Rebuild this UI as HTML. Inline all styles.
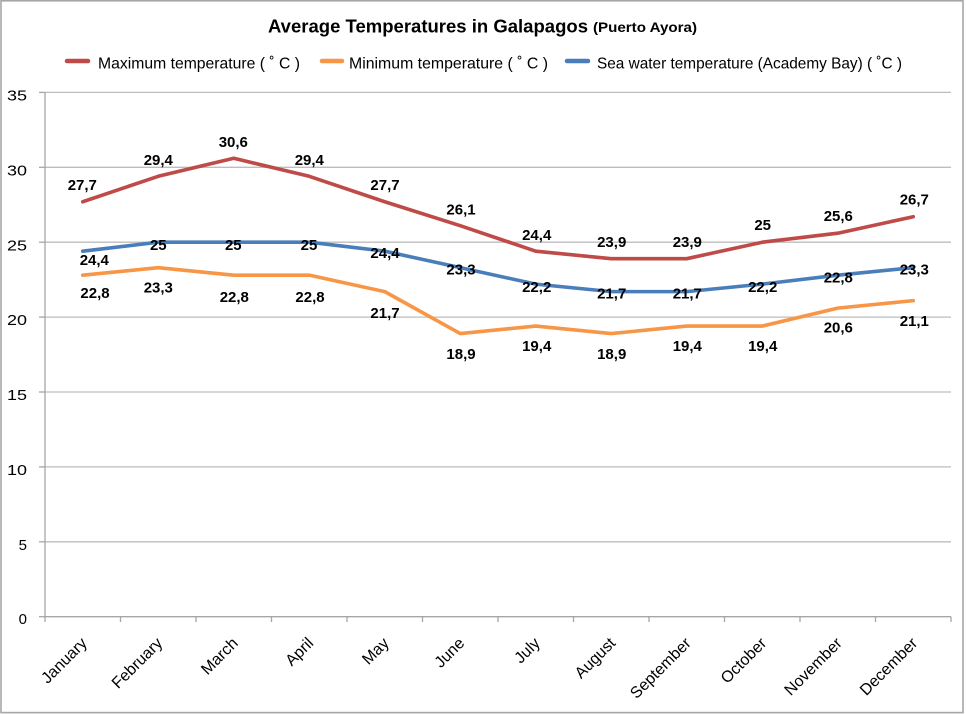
<!DOCTYPE html>
<html><head><meta charset="utf-8"><style>
html,body{margin:0;padding:0;background:#fff;}
svg{display:block;}
text{font-family:"Liberation Sans",Arial,sans-serif;fill:#000;}
.lbl{font-size:15px;font-weight:bold;text-anchor:middle;}
.yl{font-size:15px;text-anchor:end;}
.xl{font-size:16px;text-anchor:end;}
</style></head><body>
<svg width="966" height="714" viewBox="0 0 966 714" xmlns="http://www.w3.org/2000/svg">
<rect x="0" y="0" width="966" height="714" fill="#fff"/>
<rect x="1" y="0.8" width="962" height="711.8" fill="none" stroke="#a6a6a6" stroke-width="1.6"/>
<!-- title -->
<text x="268" y="32.5" font-size="18" font-weight="bold" textLength="320" lengthAdjust="spacingAndGlyphs">Average Temperatures in Galapagos</text>
<text x="593" y="32" font-size="14" font-weight="bold" textLength="104" lengthAdjust="spacingAndGlyphs">(Puerto Ayora)</text>
<!-- legend -->
<line x1="67" y1="61" x2="88" y2="61" stroke="#BE4B48" stroke-width="4.5" stroke-linecap="round"/>
<text x="98" y="68.3" font-size="16" textLength="202" lengthAdjust="spacingAndGlyphs">Maximum temperature ( ˚ C )</text>
<line x1="322" y1="61" x2="342" y2="61" stroke="#F79646" stroke-width="4.5" stroke-linecap="round"/>
<text x="349" y="68.3" font-size="16" textLength="199" lengthAdjust="spacingAndGlyphs">Minimum temperature ( ˚ C )</text>
<line x1="567" y1="61" x2="588" y2="61" stroke="#4A7EBB" stroke-width="4.5" stroke-linecap="round"/>
<text x="597" y="68.3" font-size="16" textLength="305" lengthAdjust="spacingAndGlyphs">Sea water temperature (Academy Bay) ( ˚C )</text>
<!-- gridlines -->
<g stroke="#bdbdbd" stroke-width="1.3">
<line x1="45" y1="92.4" x2="951" y2="92.4"/>
<line x1="45" y1="167.3" x2="951" y2="167.3"/>
<line x1="45" y1="242.2" x2="951" y2="242.2"/>
<line x1="45" y1="317.1" x2="951" y2="317.1"/>
<line x1="45" y1="392.0" x2="951" y2="392.0"/>
<line x1="45" y1="466.9" x2="951" y2="466.9"/>
<line x1="45" y1="541.8" x2="951" y2="541.8"/>
</g>
<!-- axes -->
<g stroke="#a6a6a6" stroke-width="1.3">
<line x1="45" y1="92.4" x2="45" y2="616.7"/>
<line x1="45" y1="616.7" x2="951" y2="616.7"/>
<line x1="39" y1="92.4" x2="45" y2="92.4"/>
<line x1="39" y1="167.3" x2="45" y2="167.3"/>
<line x1="39" y1="242.2" x2="45" y2="242.2"/>
<line x1="39" y1="317.1" x2="45" y2="317.1"/>
<line x1="39" y1="392.0" x2="45" y2="392.0"/>
<line x1="39" y1="466.9" x2="45" y2="466.9"/>
<line x1="39" y1="541.8" x2="45" y2="541.8"/>
<line x1="39" y1="616.7" x2="45" y2="616.7"/>
<line x1="45" y1="616.7" x2="45" y2="622"/>
<line x1="120.5" y1="616.7" x2="120.5" y2="622"/>
<line x1="196" y1="616.7" x2="196" y2="622"/>
<line x1="271.5" y1="616.7" x2="271.5" y2="622"/>
<line x1="347" y1="616.7" x2="347" y2="622"/>
<line x1="422.5" y1="616.7" x2="422.5" y2="622"/>
<line x1="498" y1="616.7" x2="498" y2="622"/>
<line x1="573.5" y1="616.7" x2="573.5" y2="622"/>
<line x1="649" y1="616.7" x2="649" y2="622"/>
<line x1="724.5" y1="616.7" x2="724.5" y2="622"/>
<line x1="800" y1="616.7" x2="800" y2="622"/>
<line x1="875.5" y1="616.7" x2="875.5" y2="622"/>
<line x1="951" y1="616.7" x2="951" y2="622"/>
</g>
<!-- y labels -->
<text class="yl" x="27" y="100.5" textLength="20" lengthAdjust="spacingAndGlyphs">35</text>
<text class="yl" x="27" y="175.4" textLength="20" lengthAdjust="spacingAndGlyphs">30</text>
<text class="yl" x="27" y="250.3" textLength="20" lengthAdjust="spacingAndGlyphs">25</text>
<text class="yl" x="27" y="325.2" textLength="20" lengthAdjust="spacingAndGlyphs">20</text>
<text class="yl" x="27" y="400.1" textLength="20" lengthAdjust="spacingAndGlyphs">15</text>
<text class="yl" x="27" y="475.0" textLength="20" lengthAdjust="spacingAndGlyphs">10</text>
<text class="yl" x="27" y="549.9">5</text>
<text class="yl" x="27" y="624.0">0</text>
<!-- x labels -->
<g>
<text class="xl" transform="translate(79.75,636) rotate(-45)" x="0" y="11.5">January</text>
<text class="xl" transform="translate(155.25,636) rotate(-45)" x="0" y="11.5">February</text>
<text class="xl" transform="translate(230.75,636) rotate(-45)" x="0" y="11.5">March</text>
<text class="xl" transform="translate(306.25,636) rotate(-45)" x="0" y="11.5">April</text>
<text class="xl" transform="translate(381.75,636) rotate(-45)" x="0" y="11.5">May</text>
<text class="xl" transform="translate(457.25,636) rotate(-45)" x="0" y="11.5">June</text>
<text class="xl" transform="translate(532.75,636) rotate(-45)" x="0" y="11.5">July</text>
<text class="xl" transform="translate(608.25,636) rotate(-45)" x="0" y="11.5">August</text>
<text class="xl" transform="translate(683.75,636) rotate(-45)" x="0" y="11.5">September</text>
<text class="xl" transform="translate(759.25,636) rotate(-45)" x="0" y="11.5">October</text>
<text class="xl" transform="translate(834.75,636) rotate(-45)" x="0" y="11.5">November</text>
<text class="xl" transform="translate(910.25,636) rotate(-45)" x="0" y="11.5">December</text>
</g>
<!-- series -->
<g fill="none" stroke-width="3.6" stroke-linejoin="round" stroke-linecap="round">
<polyline stroke="#BE4B48" points="82.75,201.75 158.25,176.29 233.75,158.31 309.25,176.29 384.75,201.75 460.25,225.72 535.75,251.19 611.25,258.68 686.75,258.68 762.25,242.2 837.75,233.21 913.25,216.73"/>
<polyline stroke="#F79646" points="82.75,275.16 158.25,267.67 233.75,275.16 309.25,275.16 384.75,291.63 460.25,333.58 535.75,326.09 611.25,333.58 686.75,326.09 762.25,326.09 837.75,308.11 913.25,300.62"/>
<polyline stroke="#4A7EBB" points="82.75,251.19 158.25,242.2 233.75,242.2 309.25,242.2 384.75,251.19 460.25,267.67 535.75,284.14 611.25,291.63 686.75,291.63 762.25,284.14 837.75,275.16 913.25,267.67"/>
</g>
<!-- data labels -->
<g class="lbl">
<text class="lbl" x="82.3" y="190.2">27,7</text>
<text class="lbl" x="158.3" y="165.2">29,4</text>
<text class="lbl" x="233.3" y="146.9">30,6</text>
<text class="lbl" x="309.3" y="165.2">29,4</text>
<text class="lbl" x="385" y="190.2">27,7</text>
<text class="lbl" x="461" y="214.5">26,1</text>
<text class="lbl" x="536.7" y="240.2">24,4</text>
<text class="lbl" x="611.7" y="246.9">23,9</text>
<text class="lbl" x="687.3" y="246.9">23,9</text>
<text class="lbl" x="762.7" y="230.2">25</text>
<text class="lbl" x="838.3" y="221.2">25,6</text>
<text class="lbl" x="914.3" y="204.5">26,7</text>

<text class="lbl" x="95" y="297.9">22,8</text>
<text class="lbl" x="158.3" y="292.5">23,3</text>
<text class="lbl" x="234.3" y="301.9">22,8</text>
<text class="lbl" x="310" y="301.9">22,8</text>
<text class="lbl" x="385" y="317.9">21,7</text>
<text class="lbl" x="461" y="359.2">18,9</text>
<text class="lbl" x="536.7" y="351.2">19,4</text>
<text class="lbl" x="611.7" y="359.2">18,9</text>
<text class="lbl" x="687.3" y="351.2">19,4</text>
<text class="lbl" x="762.7" y="351.2">19,4</text>
<text class="lbl" x="838.3" y="332.5">20,6</text>
<text class="lbl" x="914.3" y="325.9">21,1</text>

<text class="lbl" x="94.3" y="265.2">24,4</text>
<text class="lbl" x="158.3" y="250.2">25</text>
<text class="lbl" x="233.3" y="250.2">25</text>
<text class="lbl" x="309" y="250.2">25</text>
<text class="lbl" x="385" y="257.9">24,4</text>
<text class="lbl" x="461" y="274.5">23,3</text>
<text class="lbl" x="536.7" y="291.9">22,2</text>
<text class="lbl" x="611.7" y="298.5">21,7</text>
<text class="lbl" x="687.3" y="298.5">21,7</text>
<text class="lbl" x="762.7" y="291.9">22,2</text>
<text class="lbl" x="838.3" y="282.5">22,8</text>
<text class="lbl" x="914.3" y="274.5">23,3</text>
</g>
</svg>
</body></html>
